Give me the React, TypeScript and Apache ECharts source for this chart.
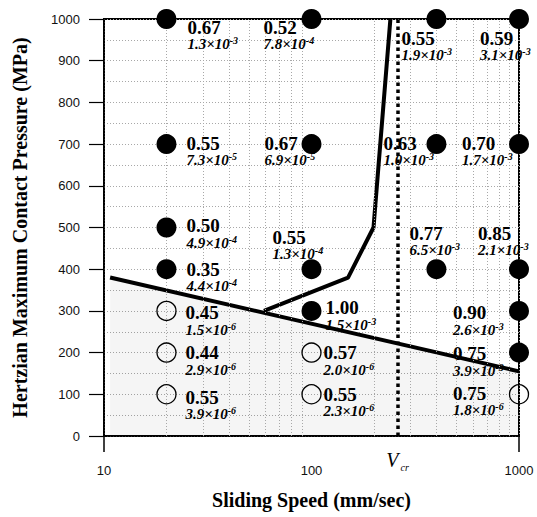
import React, { useEffect, useRef } from "react";
import * as echarts from "echarts";

// ---- data ----
const xAxisLabels = [10, 100, 1000];
const logGridSpeeds = [20, 30, 40, 50, 60, 70, 80, 90, 200, 300, 400, 500, 600, 700, 800, 900];

const testSpeed = [20, 100, 400, 1000, 20, 100, 400, 1000, 20, 20, 100, 400, 1000, 100, 1000, 1000, 20, 20, 20, 100, 100, 1000];
const testPressure = [1000, 1000, 1000, 1000, 700, 700, 700, 700, 500, 400, 400, 400, 400, 300, 300, 200, 300, 200, 100, 200, 100, 100];
const frictionCoef = ["0.67", "0.52", "0.55", "0.59", "0.55", "0.67", "0.63", "0.70", "0.50", "0.35", "0.55", "0.77", "0.85", "1.00", "0.90", "0.75", "0.45", "0.44", "0.55", "0.57", "0.55", "0.75"];
const wearMantissa = ["1.3", "7.8", "1.9", "3.1", "7.3", "6.9", "1.0", "1.7", "4.9", "4.4", "1.3", "6.5", "2.1", "1.5", "2.6", "3.9", "1.5", "2.9", "3.9", "2.0", "2.3", "1.8"];
const wearExponent = ["-3", "-4", "-3", "-3", "-5", "-5", "-3", "-3", "-4", "-4", "-4", "-3", "-3", "-3", "-3", "-3", "-6", "-6", "-6", "-6", "-6", "-6"];
const severeWear = [true, true, true, true, true, true, true, true, true, true, true, true, true, true, true, true, false, false, false, false, false, false];

const boundarySpeed = [10.7, 1000];
const boundaryPressure = [380, 155];
const transitionSpeed = [59, 150, 199, 240];
const transitionPressure = [300, 380, 500, 1000];
const criticalSpeed = 260;

// ---- layout (label placement relative to marker, px) ----
const labelOffsets = [
  [21, 8], [-48, 8], [-35, 19], [-39, 19],
  [20, -1], [-47, -1], [-53, -1], [-57, -1],
  [20, -2], [20, 0], [-39, -32], [-27, -36], [-41, -36],
  [14, -3], [-66, 2], [-66, 1],
  [19, 2], [19, 0], [19, 3], [12, 0], [12, 0], [-66, -1],
];

const SERIF = "'Liberation Serif', 'Times New Roman', serif";
const SANS = "'Liberation Sans', Arial, sans-serif";

function buildPoints(severe: boolean) {
  const out: any[] = [];
  for (let i = 0; i < testSpeed.length; i++) {
    if (severeWear[i] !== severe) continue;
    const [dx, dy] = labelOffsets[i];
    out.push({
      value: [testSpeed[i], testPressure[i]],
      label: {
        formatter: `{f|${frictionCoef[i]}}\n{w|${wearMantissa[i]}×10}{e|${wearExponent[i]}}`,
        offset: [dx, dy - 8.5],
      },
    });
  }
  return out;
}

const pointLabel = {
  show: true,
  position: "inside",
  align: "left",
  verticalAlign: "top",
  color: "#000",
  opacity: 1,
  rich: {
    f: { fontFamily: SERIF, fontWeight: "bold", fontSize: 19, lineHeight: 17, color: "#000" },
    w: { fontFamily: SERIF, fontWeight: "bold", fontStyle: "italic", fontSize: 15, lineHeight: 17, color: "#000" },
    e: { fontFamily: SERIF, fontWeight: "bold", fontStyle: "italic", fontSize: 10, lineHeight: 10, verticalAlign: "top", color: "#000" },
  },
};

export default function App() {
  const ref = useRef<HTMLDivElement>(null);
  useEffect(() => {
    if (!ref.current) return;
    const chart = echarts.init(ref.current, null, { renderer: "svg" });
    const gridDot = { color: "#a8a8a8", type: [1, 2], width: 1 };
    const option: any = {
      animation: false,
      backgroundColor: "#fff",
      grid: { left: 104, right: 18, top: 19, bottom: 81, show: true, borderColor: "#000", borderWidth: 2, backgroundColor: "transparent" },
      xAxis: {
        type: "log",
        logBase: 10,
        min: 10,
        max: 1000,
        name: "Sliding Speed (mm/sec)",
        nameLocation: "middle",
        nameGap: 54,
        nameTextStyle: { fontFamily: SERIF, fontWeight: "bold", fontSize: 20, color: "#000" },
        axisLine: { show: true, lineStyle: { color: "#000", width: 1.5 } },
        axisTick: { show: true, length: 16, customValues: [xAxisLabels[0], xAxisLabels[2]], lineStyle: { color: "#000", width: 1.5 } },
        axisLabel: { margin: 28, fontFamily: SANS, fontSize: 13, color: "#111", customValues: xAxisLabels, formatter: (v: number) => String(Math.round(v)) },
        splitLine: { show: true, lineStyle: gridDot },
      },
      yAxis: {
        type: "value",
        min: 0,
        max: 1000,
        interval: 100,
        name: "Hertzian Maximum Contact Pressure (MPa)",
        nameLocation: "middle",
        nameGap: 74,
        nameTextStyle: { fontFamily: SERIF, fontWeight: "bold", fontSize: 20, color: "#000" },
        axisLine: { show: true, lineStyle: { color: "#000", width: 1.5 } },
        axisTick: { show: true, length: 15, lineStyle: { color: "#000", width: 1.2 } },
        axisLabel: { margin: 24, fontFamily: SANS, fontSize: 13, color: "#111", formatter: (v: number) => String(v) },
        splitLine: { show: true, lineStyle: gridDot },
        minorTick: { show: false, splitNumber: 2 },
        minorSplitLine: { show: true, lineStyle: gridDot },
      },
      series: [
        {
          type: "line",
          data: [],
          z: 1,
          silent: true,
          markLine: {
            silent: true,
            symbol: ["none", "none"],
            label: { show: false },
            lineStyle: gridDot,
            data: logGridSpeeds.map((v) => ({ xAxis: v })),
          },
        },
        {
          type: "line",
          z: 3,
          symbol: "none",
          data: boundarySpeed.map((s, i) => [s, boundaryPressure[i]]),
          lineStyle: { color: "#000", width: 4 },
          areaStyle: { color: "rgba(0,0,0,0.055)" },
        },
        {
          type: "line",
          z: 3,
          symbol: "none",
          data: transitionSpeed.map((s, i) => [s, transitionPressure[i]]),
          lineStyle: { color: "#000", width: 4 },
        },
        {
          type: "line",
          data: [],
          z: 3,
          markLine: {
            silent: true,
            symbol: ["none", "none"],
            lineStyle: { color: "#000", width: 3.5, type: [3.5, 3.5] },
            label: {
              show: true,
              position: "start",
              distance: 12,
              formatter: "{v|V}{s|cr}",
              rich: {
                v: { fontFamily: SERIF, fontStyle: "italic", fontSize: 20, color: "#000" },
                s: { fontFamily: SERIF, fontStyle: "italic", fontSize: 10, color: "#000", padding: [14, 0, 0, 2] },
              },
            },
            data: [[{ coord: [criticalSpeed, 0] }, { coord: [criticalSpeed, 1000] }]],
          },
        },
        {
          type: "scatter",
          z: 5,
          symbol: "circle",
          symbolSize: 20,
          itemStyle: { color: "#000", opacity: 1 },
          label: pointLabel,
          data: buildPoints(true),
        },
        {
          type: "scatter",
          z: 5,
          symbol: "circle",
          symbolSize: 19,
          itemStyle: { color: "rgba(255,255,255,0)", borderColor: "#000", borderWidth: 1.3, opacity: 1 },
          label: pointLabel,
          data: buildPoints(false),
        },
      ],
    };
    chart.setOption(option);
    return () => chart.dispose();
  }, []);
  return <div ref={ref} style={{ position: "fixed", left: 0, top: 0, width: 537, height: 517, background: "#fff" }} />;
}
